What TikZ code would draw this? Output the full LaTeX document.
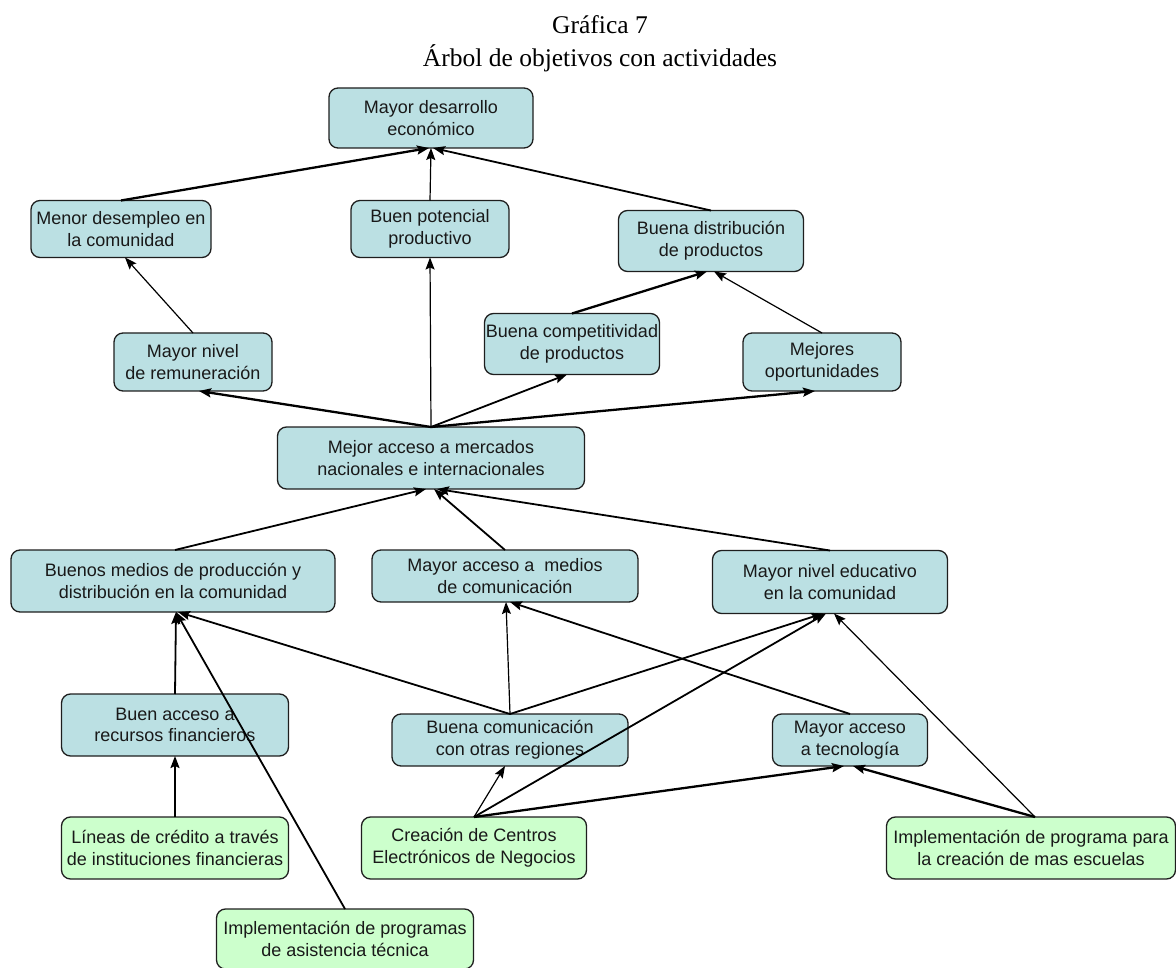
\documentclass[tikz,border=0pt]{standalone}
\usepackage{fontspec}
\setmainfont{Liberation Serif}
\newfontfamily\boxfont{Liberation Sans}
\usetikzlibrary{arrows.meta}
\definecolor{objfill}{RGB}{187,224,227}
\definecolor{actfill}{RGB}{204,255,204}
\definecolor{edgecol}{RGB}{30,30,30}
\begin{document}
\begin{tikzpicture}[x=1pt,y=-1pt,
  basebox/.style={draw=edgecol, line width=1.3pt, rounded corners=9pt,
    align=center, inner sep=0pt, outer sep=0pt,
    font=\boxfont\fontsize{18}{21.7}\selectfont, text=black!90},
  objbox/.style={basebox, fill=objfill},
  actbox/.style={basebox, fill=actfill},
  link/.style={-{Stealth[length=12pt,width=9pt,inset=2pt]}, draw=black, line width=1.8pt},
  thin link/.style={link, line width=1.2pt},
  thick link/.style={link, line width=2.3pt},
  titletext/.style={font=\fontsize{25.5}{30}\selectfont, inner sep=0pt}]
\useasboundingbox (0,0) rectangle (1176,968);

% title
\node[titletext] (t1) at (600,25) {Gráfica 7};
\node[titletext] (t2) at (600,58) {Árbol de objetivos con actividades};

% objectives
\node[objbox, minimum width=204pt, minimum height=60pt] (mdes) at (431,118) {Mayor desarrollo\\económico};
\node[objbox, minimum width=180pt, minimum height=57pt] (mdem) at (121,229) {Menor desempleo en\\la comunidad};
\node[objbox, minimum width=158pt, minimum height=57pt] (bpot) at (430,229) {Buen potencial\\productivo};
\node[objbox, minimum width=185pt, minimum height=61pt] (bdis) at (711,241) {Buena distribución\\de productos};
\node[objbox, minimum width=158pt, minimum height=58pt] (mrem) at (193,362) {Mayor nivel\\de remuneración};
\node[objbox, minimum width=175pt, minimum height=61pt] (bcom) at (572,344) {Buena competitividad\\de productos};
\node[objbox, minimum width=158pt, minimum height=58pt] (mopo) at (822,362) {Mejores\\oportunidades};
\node[objbox, minimum width=307pt, minimum height=62pt] (mmer) at (431,458) {Mejor acceso a mercados\\nacionales e internacionales};
\node[objbox, minimum width=324pt, minimum height=62pt] (bmed) at (173,581) {Buenos medios de producción y\\distribución en la comunidad};
\node[objbox, minimum width=266pt, minimum height=52pt] (macm) at (505,576) {Mayor acceso a \ medios\\de comunicación};
\node[objbox, minimum width=235pt, minimum height=63pt] (medu) at (830,582) {Mayor nivel educativo\\en la comunidad};
\node[objbox, minimum width=227pt, minimum height=62pt] (brec) at (175,725) {Buen acceso a\\recursos financieros};
\node[objbox, minimum width=236pt, minimum height=52pt] (bcor) at (510,740) {Buena comunicación\\con otras regiones};
\node[objbox, minimum width=155pt, minimum height=52pt] (mtec) at (850,740) {Mayor acceso\\a tecnología};

% activities
\node[actbox, minimum width=227pt, minimum height=62pt] (lcre) at (175,848) {Líneas de crédito a través\\de instituciones financieras};
\node[actbox, minimum width=225pt, minimum height=62pt] (ccen) at (474,848) {Creación de Centros\\Electrónicos de Negocios};
\node[actbox, minimum width=289pt, minimum height=62pt] (iesc) at (1031,848) {Implementación de programa para\\la creación de mas escuelas};
\node[actbox, minimum width=257pt, minimum height=60pt] (iasi) at (345,939) {Implementación de programas\\de asistencia técnica};

% upper level links
\draw[thick link] (mdem.north) -- ([xshift=-2pt]mdes.south);
\draw[thin link]  (bpot.north) -- (mdes.south);
\draw[link]       (bdis.north) -- ([xshift=2pt]mdes.south);
\draw[thin link]  (mrem.north) -- ([xshift=4pt]mdem.south);
\draw[thin link]  (mmer.north) -- (bpot.south);
\draw[thick link] (bcom.north) -- ([xshift=-4pt]bdis.south);
\draw[thin link]  (mopo.north) -- ([xshift=3pt]bdis.south);
\draw[thick link] (mmer.north) -- ([xshift=6pt]mrem.south);
\draw[link]       (mmer.north) -- ([xshift=-5pt]bcom.south);
\draw[thick link] (mmer.north) -- ([xshift=-7pt]mopo.south);

% middle level links
\draw[link] ([xshift=2pt]bmed.north) -- ([xshift=-5pt]mmer.south);
\draw[link] (macm.north) -- ([xshift=3pt]mmer.south);
\draw[link] (medu.north) -- ([xshift=6pt]mmer.south);
\draw[link] (brec.north) -- ([xshift=3pt]bmed.south);
\draw[link] (bcor.north) -- ([xshift=5pt]bmed.south);
\draw[thin link] (bcor.north) -- ([xshift=1pt]macm.south);
\draw[link] (bcor.north) -- ([xshift=-7pt]medu.south);
\draw[link] (mtec.north) -- ([xshift=5pt]macm.south);

% activity links
\draw[link] (iasi.north) -- ([xshift=3pt]bmed.south);
\draw[link] (lcre.north) -- (brec.south);
\draw[thin link] (ccen.north) -- ([xshift=-5pt]bcor.south);
\draw[link] (ccen.north) -- ([xshift=-4pt]medu.south);
\draw[thick link] (ccen.north) -- ([xshift=-6pt]mtec.south);
\draw[thick link] ([xshift=4pt]iesc.north) -- ([xshift=3pt]mtec.south);
\draw[thin link] ([xshift=4pt]iesc.north) -- ([xshift=4pt]medu.south);
\end{tikzpicture}
\end{document}
